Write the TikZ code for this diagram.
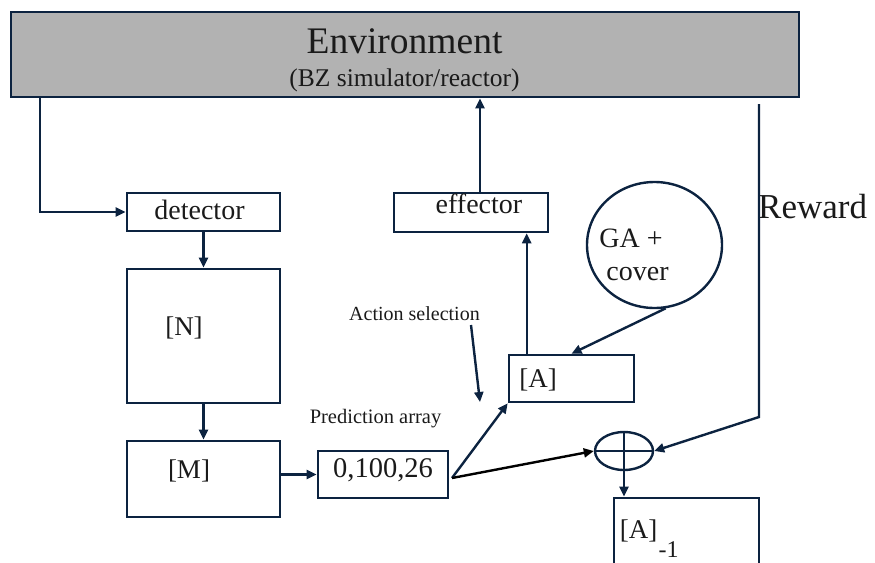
\documentclass[tikz,border=0pt]{standalone}
\usepackage{fontspec}
\setmainfont{Liberation Serif}
\usetikzlibrary{arrows.meta,shapes.geometric}
\definecolor{navy}{HTML}{0C2340}
\definecolor{envgray}{HTML}{B2B2B2}
\definecolor{txt}{HTML}{1A1A1A}
\tikzset{
  box/.style={draw=navy,line width=2.6pt,rectangle,inner sep=0pt},
  lbl/.style={inner sep=0pt,anchor=base,text=txt},
  arr/.style={draw=navy,line width=2.4pt,-{Triangle[length=10pt,width=9pt]}},
  ln/.style={draw=navy,line width=2.4pt},
}
\newcommand{\fs}[1]{\fontsize{#1}{#1}\selectfont}
\begin{document}
\begin{tikzpicture}[x=1pt,y=-1pt]
\useasboundingbox (0,0) rectangle (875,562);
\clip (0,0) rectangle (875,562);
% boxes
\node[box,fill=envgray,minimum width=788pt,minimum height=85pt] (env) at (405,54.5) {};
\node[box,minimum width=153pt,minimum height=38pt] (det) at (203.5,212) {};
\node[box,minimum width=153pt,minimum height=134pt] (N) at (203.5,336) {};
\node[box,minimum width=153pt,minimum height=76pt] (M) at (203.5,479) {};
\node[box,minimum width=130pt,minimum height=47pt] (pred) at (383,474.5) {};
\node[box,minimum width=154pt,minimum height=39pt] (eff) at (471,212.5) {};
\node[box,minimum width=125pt,minimum height=47pt] (A) at (571.5,378.5) {};
\node[box,minimum width=145pt,minimum height=102pt] (A1) at (686.5,549) {};
\node[draw=navy,line width=2.4pt,ellipse,inner sep=0pt,minimum width=135pt,minimum height=126pt] (GA) at (654.5,245) {};
\node[draw=navy,line width=2.4pt,ellipse,inner sep=0pt,minimum width=58pt,minimum height=38pt] (op) at (624,451) {};
\draw[ln] (op.north) -- (op.south);
\draw[ln] (op.west) -- (op.east);
% texts
\node[lbl] (tenv) at (404.5,53) {\fs{37.5}Environment};
\node[lbl] (tbz) at (404.5,86) {\fs{25.5}(BZ simulator/reactor)};
\node[lbl] (tdet) at (199.5,219) {\fs{28}detector};
\node[lbl] (teff) at (479,213) {\fs{28}effector};
\node[lbl] (tN) at (184,335) {\fs{27}[N]};
\node[lbl] (tM) at (189,478) {\fs{27}[M]};
\node[lbl] (tpred) at (383,477) {\fs{28.5}0,100,26};
\node[lbl] (tA) at (538,387) {\fs{27}[A]};
\node[lbl] (tA1) at (638.5,538) {\fs{27}[A]};
\node[lbl] (tm1) at (668.5,557) {\fs{24}-1};
\node[lbl] (tga) at (631,247) {\fs{28}GA +};
\node[lbl] (tcov) at (637.5,280) {\fs{28}cover};
\node[lbl] (tact) at (414.5,320) {\fs{20}Action selection};
\node[lbl] (tpa) at (375.5,423) {\fs{20.5}Prediction array};
\node[lbl,anchor=base west] (trew) at (758,218) {\fs{35}Reward};
% coordinates
\coordinate (rtop) at (759,104);
\coordinate (rbend) at (759,417);
\coordinate (asA) at (471,325);
\coordinate (asB) at (480,402);
\coordinate (pout) at (452,478);
% connectors
\draw[arr] ([xshift=30pt]env.south west) |- (det.west);
\draw[arr] (det.south) -- (N.north);
\draw[arr] (N.south) -- (M.north);
\draw[arr] ([yshift=4.5pt]M.east) -- ([yshift=4.5pt]M.east -| pred.west);
\draw[arr] (pout) -- (A.south west);
\draw[arr,draw=black] (pout) -- (op.west);
\draw[arr] ([xshift=19pt]A.north west) -- ([xshift=19pt]A.north west |- eff.south);
\draw[arr] ([xshift=9pt]eff.north) -- ([xshift=9pt]eff.north |- env.south);
\draw[arr] (GA.280) -- (A.north);
\draw[arr] (rtop) -- (rbend) -- (op.east);
\draw[arr] (asA) -- (asB);
\draw[arr] (op.south) -- (op.south |- A1.north);
\end{tikzpicture}
\end{document}
